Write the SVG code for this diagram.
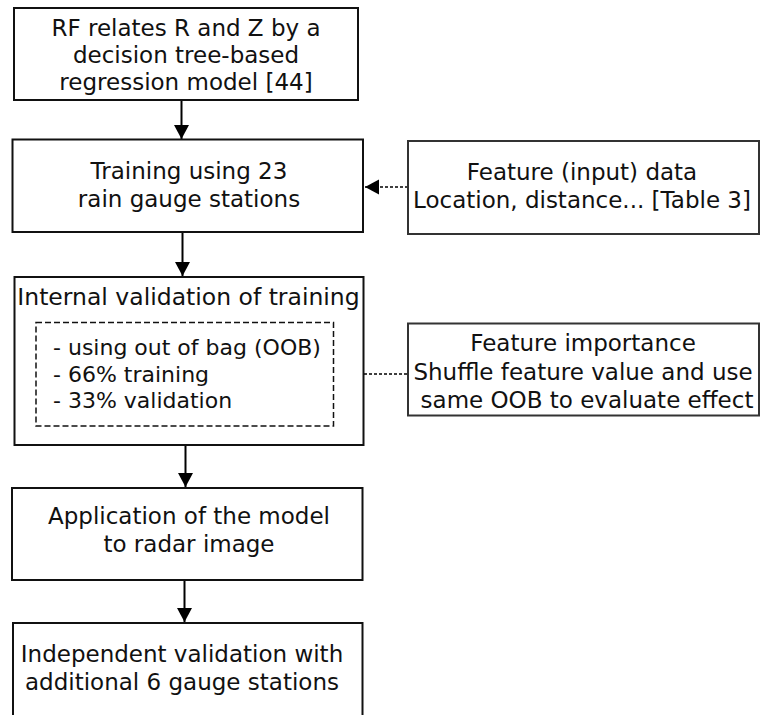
<svg xmlns="http://www.w3.org/2000/svg" width="760" height="715" viewBox="0 0 760 715">
  <style>
    .box { fill: #ffffff; stroke: #111111; stroke-width: 2; }
    .side { fill: #ffffff; stroke: #333333; stroke-width: 2; }
    .inner { fill: none; stroke: #111111; stroke-width: 1.5; stroke-dasharray: 6 3; }
    .lbl { font-family: "DejaVu Sans", "Noto Sans", sans-serif; font-size: 23px; fill: #111111; }
    .small { font-size: 22px; }
    .mid { text-anchor: middle; }
    .flow { stroke: #000000; stroke-width: 2; fill: none; }
    .dash { stroke: #000000; stroke-width: 1.5; fill: none; stroke-dasharray: 3 2; }
  </style>
  <defs>
    <marker id="head" markerUnits="userSpaceOnUse" markerWidth="16" markerHeight="16" refX="14" refY="7.5" orient="auto">
      <path d="M0,0 L14,7.5 L0,15 Z" fill="#000000"/>
    </marker>
  </defs>

  <rect width="760" height="715" fill="#ffffff"/>

  <g id="connectors">
    <line class="flow" x1="181.5" y1="100" x2="181.5" y2="139" marker-end="url(#head)"/>
    <line class="flow" x1="182.5" y1="232" x2="182.5" y2="276" marker-end="url(#head)"/>
    <line class="flow" x1="185.5" y1="445" x2="185.5" y2="487" marker-end="url(#head)"/>
    <line class="flow" x1="184.5" y1="580" x2="184.5" y2="622" marker-end="url(#head)"/>
    <line class="dash" x1="408" y1="187" x2="365" y2="187" marker-end="url(#head)"/>
    <line class="dash" x1="364" y1="374" x2="408" y2="374"/>
  </g>

  <g id="rf-model">
    <rect class="box" x="14" y="8" width="344" height="92"/>
    <text class="lbl mid" x="186" y="36">RF relates R and Z by a</text>
    <text class="lbl mid" x="186" y="63">decision tree-based</text>
    <text class="lbl mid" x="186" y="90">regression model [44]</text>
  </g>

  <g id="training">
    <rect class="box" x="12.5" y="139.5" width="350.5" height="92.5"/>
    <text class="lbl mid" x="189" y="179">Training using 23</text>
    <text class="lbl mid" x="189" y="207">rain gauge stations</text>
  </g>

  <g id="feature-data">
    <rect class="side" x="408" y="141" width="351" height="93"/>
    <text class="lbl mid" x="582" y="180">Feature (input) data</text>
    <text class="lbl mid" x="582" y="208">Location, distance... [Table 3]</text>
  </g>

  <g id="internal-validation">
    <rect class="box" x="14.5" y="277" width="349" height="168"/>
    <text class="lbl mid" x="188.5" y="305" style="font-size:23.5px">Internal validation of training</text>
    <rect class="inner" x="36" y="322.5" width="297.5" height="103.5"/>
    <text class="lbl small" x="53" y="355">- using out of bag (OOB)</text>
    <text class="lbl small" x="53" y="381.5">- 66% training</text>
    <text class="lbl small" x="53" y="407.5">- 33% validation</text>
  </g>

  <g id="feature-importance">
    <rect class="side" x="408" y="323.5" width="351" height="92"/>
    <text class="lbl mid" x="583" y="351">Feature importance</text>
    <text class="lbl mid" x="583" y="380">Shuffle feature value and use</text>
    <text class="lbl mid" x="587" y="408">same OOB to evaluate effect</text>
  </g>

  <g id="application">
    <rect class="box" x="12" y="488" width="350.5" height="92"/>
    <text class="lbl mid" x="189" y="524">Application of the model</text>
    <text class="lbl mid" x="189" y="552">to radar image</text>
  </g>

  <g id="independent-validation">
    <rect class="box" x="13" y="623" width="349.5" height="100"/>
    <text class="lbl mid" x="182" y="662">Independent validation with</text>
    <text class="lbl mid" x="182" y="690">additional 6 gauge stations</text>
  </g>
</svg>
